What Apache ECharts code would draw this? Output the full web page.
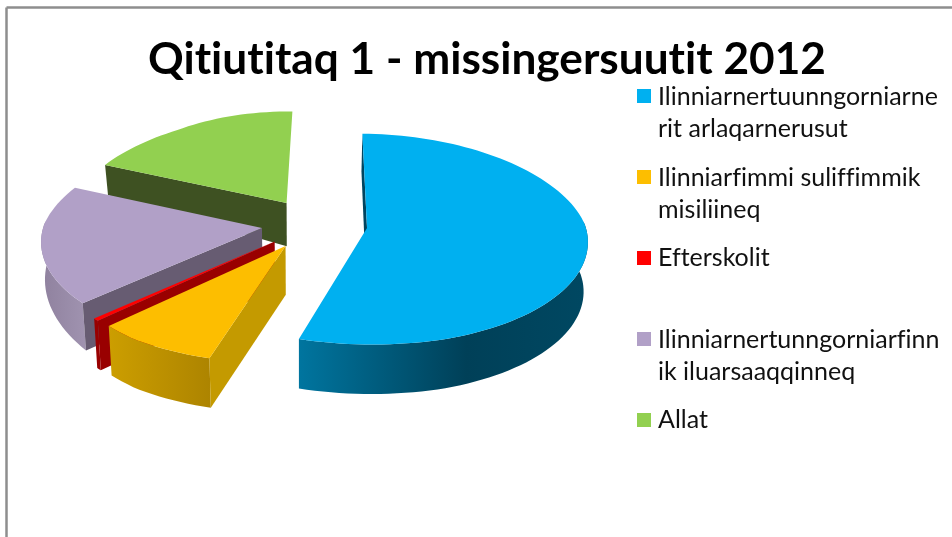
<!DOCTYPE html>
<html>
<head>
<meta charset="utf-8">
<style>html,body{margin:0;padding:0;background:#fff}#c{width:952px;height:537px}</style>
<script src="https://cdn.jsdelivr.net/npm/echarts@6/dist/echarts.min.js"></script>
</head>
<body>
<div id="c"></div>
<script>
var titleText = 'Qitiutitaq 1 - missingersuutit 2012';
var categories = [
  'Ilinniarnertuunngorniarne\nrit arlaqarnerusut',
  'Ilinniarfimmi suliffimmik\nmisiliineq',
  'Efterskolit',
  'Ilinniarnertunngorniarfinn\nik iluarsaaqqinneq',
  'Allat'
];
var values = [54.7, 8.1, 0.4, 18.1, 18.7];

var topColors = ['#00B0F0', '#FDBE00', '#FF0000', '#B1A0C7', '#92D050'];
var cutColors = ['#004560', '#C49A00', '#990000', '#675C72', '#3E5122'];
var arcStops = [
  [[0, '#00759F'], [0.58, '#004058'], [1, '#004862']],
  [[0, '#CC9E00'], [1, '#AD8400']],
  [[0, '#990000'], [1, '#990000']],
  [[0, '#8F819E'], [1, '#A093B0']],
  [[0, '#5A7A30'], [1, '#5A7A30']]
];
var legendTops = [80.5, 161.5, 242, 323.5, 404];
var drawOrder = [4, 3, 2, 1, 0];

// Calibri-like text has no ti/fi ligatures
var origGetContext = HTMLCanvasElement.prototype.getContext;
HTMLCanvasElement.prototype.getContext = function () {
  var ctx = origGetContext.apply(this, arguments);
  if (ctx && 'textRendering' in ctx) ctx.textRendering = 'optimizeSpeed';
  return ctx;
};

var CX = 314.5, CY = 224, RX = 218, EXPLODE = 0.243, START_DEG = 0.8;
var total = values.reduce(function (a, b) { return a + b; }, 0);

function project(x, y) {
  var c = Math.max(-1, Math.min(1, y));
  var sx = c < 0 ? 1 + 0.14 * c : 1 + 0.11 * c;
  return [CX + RX * x * sx, CY + y * (104.75 + 11.25 * c)];
}
function lower(p) {
  var h = Math.min(49.5, 4.56 + 0.0439 * p[0] + 0.1286 * p[1]);
  return [p[0] + (300 - p[0]) * 0.015, p[1] + h];
}
function sliceGeometry(i) {
  var before = 0;
  for (var k = 0; k < i; k++) before += values[k];
  var a0 = START_DEG + before / total * 360;
  var a1 = a0 + values[i] / total * 360;
  var mid = (a0 + a1) / 2 * Math.PI / 180;
  var ox = Math.sin(mid) * EXPLODE, oy = -Math.cos(mid) * EXPLODE;
  var arc = [], front = [];
  var steps = Math.max(2, Math.ceil((a1 - a0) / 2));
  for (var s = 0; s <= steps; s++) {
    var deg = a0 + (a1 - a0) * s / steps;
    var t = deg * Math.PI / 180;
    var p = project(Math.sin(t) + ox, -Math.cos(t) + oy);
    arc.push(p);
    if (deg >= 85 && deg <= 275) front.push(p);
  }
  return { apex: project(ox, oy), arc: arc, front: front };
}
function poly(points, fill) {
  return { type: 'polygon', shape: { points: points }, style: { fill: fill, stroke: null } };
}
function renderSlice(params) {
  var i = categories.indexOf(params.seriesName);
  var g = sliceGeometry(i);
  var apexB = lower(g.apex), first = g.arc[0];
  var children = [];
  if (g.front.length > 1) {
    var grad = new echarts.graphic.LinearGradient(0, 0, 1, 0, arcStops[i].map(function (s) {
      return { offset: s[0], color: s[1] };
    }));
    children.push(poly(g.front.concat(g.front.map(lower).reverse()), grad));
  }
  children.push(poly([g.apex, first, lower(first), apexB], cutColors[i]));
  children.push(poly([g.apex].concat(g.arc), topColors[i]));
  return { type: 'group', children: children };
}

var series = drawOrder.map(function (i) {
  return {
    type: 'custom',
    name: categories[i],
    coordinateSystem: 'none',
    silent: true,
    clip: false,
    itemStyle: { color: topColors[i] },
    renderItem: renderSlice,
    data: [[values[i]]]
  };
});
var legends = categories.map(function (name, i) {
  var two = name.indexOf('\n') >= 0;
  return {
    data: [name],
    orient: 'vertical',
    left: 637,
    top: legendTops[i],
    selectedMode: false,
    itemWidth: 14,
    itemHeight: two ? 47 : 14,
    icon: two ? 'path://M0 0H14V14H0Z M0 47H0Z' : 'rect',
    padding: 0,
    textStyle: {
      fontFamily: 'Lato', fontSize: 25, lineHeight: 32, color: '#111',
      padding: [0, 0, 0, 2]
    }
  };
});

var chart = echarts.init(document.getElementById('c'), null, { renderer: 'canvas' });
chart.setOption({
  animation: false,
  backgroundColor: '#fff',
  title: {
    text: titleText,
    left: 487, top: 38, textAlign: 'center', padding: 0,
    textStyle: { fontFamily: 'Lato', fontWeight: 'bold', fontSize: 44.2, color: '#000' }
  },
  legend: legends,
  series: series,
  graphic: [
    { type: 'line', silent: true, shape: { x1: 6.5, y1: 7.5, x2: 952, y2: 7.5 }, style: { stroke: '#8E8E8E', lineWidth: 2.5 } },
    { type: 'line', silent: true, shape: { x1: 6.5, y1: 7.5, x2: 6.5, y2: 537 }, style: { stroke: '#8E8E8E', lineWidth: 2.5 } }
  ]
});
</script>
</body>
</html>
